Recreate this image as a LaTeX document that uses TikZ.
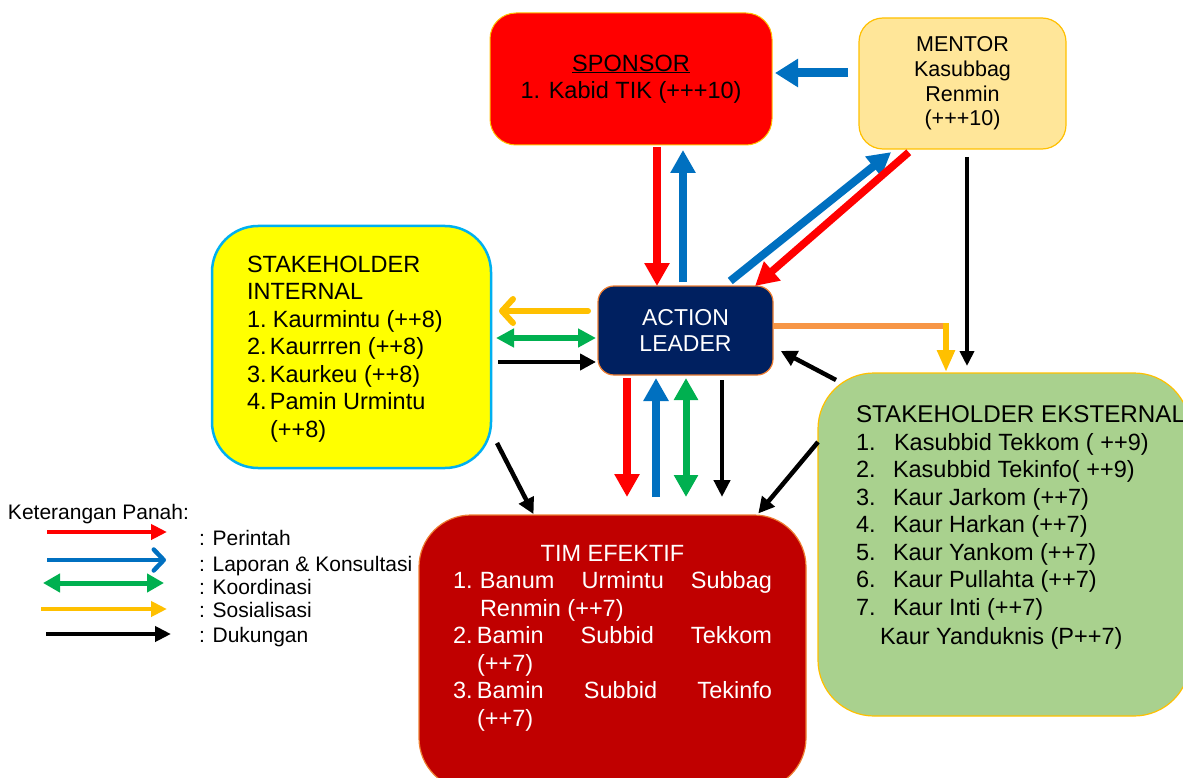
\documentclass[tikz,border=0pt]{standalone}
\usepackage{fontspec}
\setmainfont{Liberation Sans}
\usetikzlibrary{arrows.meta}

\definecolor{cRed}{HTML}{FF0000}
\definecolor{cBlue}{HTML}{0070C0}
\definecolor{cGreen}{HTML}{00B050}
\definecolor{cGold}{HTML}{FFC000}
\definecolor{cOrange}{HTML}{F79646}
\definecolor{cEdge}{HTML}{ED7D31}
\definecolor{cCyan}{HTML}{00B0F0}
\definecolor{cNavy}{HTML}{002060}
\definecolor{cDark}{HTML}{C00000}
\definecolor{cCream}{HTML}{FFE699}
\definecolor{cLeaf}{HTML}{A9D18E}
\definecolor{cLemon}{HTML}{FFFF00}

% number column for the lists
\newcommand\numcol[2]{\makebox[#1][l]{#2}}

\begin{document}
\begin{tikzpicture}[x=1pt,y=-1pt,
  panel/.style={rectangle, anchor=north west, inner sep=0pt, outer sep=0pt, align=center},
  txt/.style={inner sep=0pt, outer sep=0pt, align=left},
  bigfont/.style={font=\fontsize{23.5}{27.5}\selectfont},
  keyfont/.style={font=\fontsize{21}{24}\selectfont},
  fatR/.style={draw=cRed, line width=7.5pt, -{Triangle[length=23pt,width=24pt]}},
  fatB/.style={draw=cBlue, line width=8pt, -{Triangle[length=23pt,width=24pt]}},
  fatG/.style={draw=cGreen, line width=7pt, {Triangle[length=22pt,width=23pt]}-{Triangle[length=22pt,width=23pt]}},
  thinK/.style={draw=black, line width=4.5pt, -{Triangle[length=16pt,width=16pt]}},
  midG/.style={draw=cGreen, line width=6pt, {Triangle[length=18pt,width=18pt]}-{Triangle[length=18pt,width=18pt]}},
  barbY/.style={draw=cGold, line width=6pt, line cap=round, -{Straight Barb[length=11pt,width=24pt,line cap=round,line join=round]}},
  keyR/.style={draw=cRed, line width=4.5pt, -{Triangle[length=16pt,width=15pt]}},
  keyB/.style={draw=cBlue, line width=4.5pt, -{Straight Barb[length=10pt,width=21pt,line cap=round,line join=round]}},
  keyG/.style={draw=cGreen, line width=5pt, {Triangle[length=17pt,width=18pt]}-{Triangle[length=17pt,width=18pt]}},
  keyY/.style={draw=cGold, line width=4.5pt, -{Triangle[length=16pt,width=15pt]}},
  keyK/.style={draw=black, line width=4.5pt, -{Triangle[length=16pt,width=15pt]}},
]
\useasboundingbox (0,0) rectangle (1183,778);

% ---------- boxes ----------
\node[panel, fill=cRed, draw=cGold, line width=1pt, rounded corners=26pt,
      minimum width=282pt, minimum height=132pt, bigfont] (sponsor) at (490,13)
      {\underline{SPONSOR}\\1. Kabid TIK (+++10)};

\node[panel, fill=cCream, draw=cGold, line width=1.2pt, rounded corners=24pt,
      minimum width=207pt, minimum height=131pt,
      font=\fontsize{21.5}{24.8}\selectfont] (mentor) at (859,18)
      {MENTOR\\Kasubbag\\Renmin\\(+++10)};

\node[panel, fill=cNavy, draw=cEdge, line width=1.2pt, rounded corners=16pt,
      minimum width=175pt, minimum height=89pt, text=white,
      font=\fontsize{23}{26}\selectfont] (action) at (598,286)
      {ACTION\\LEADER};

\node[panel, fill=cLemon, draw=cCyan, line width=2.5pt, rounded corners=46pt,
      minimum width=279pt, minimum height=242pt] (internal) at (212,226) {};

\node[panel, fill=cDark, draw=cEdge, line width=1.2pt, rounded corners=52pt,
      minimum width=387pt, minimum height=275pt] (tim) at (419,515) {};

\node[panel, fill=cLeaf, draw=cGold, line width=1.2pt, rounded corners=56pt,
      minimum width=372pt, minimum height=343pt] (eks) at (818,373) {};

% ---------- box texts ----------
\node[txt, bigfont, anchor=north west] (inttext) at (247,256)
  {STAKEHOLDER\\INTERNAL\\
   \numcol{26pt}{1.}Kaurmintu (++8)\\
   \numcol{23pt}{2.}Kaurrren (++8)\\
   \numcol{23pt}{3.}Kaurkeu (++8)\\
   \numcol{23pt}{4.}Pamin Urmintu\\
   \hspace*{23pt}(++8)};

\node[txt, bigfont, anchor=north west] (ekstext) at (856,406)
  {{\fontsize{24.2}{27.5}\selectfont STAKEHOLDER EKSTERNAL}\\
   \numcol{38pt}{1.}Kasubbid Tekkom ( ++9)\\
   \numcol{37pt}{2.}Kasubbid Tekinfo( ++9)\\
   \numcol{37pt}{3.}Kaur Jarkom (++7)\\
   \numcol{37pt}{4.}Kaur Harkan (++7)\\
   \numcol{37pt}{5.}Kaur Yankom (++7)\\
   \numcol{37pt}{6.}Kaur Pullahta (++7)\\
   \numcol{37pt}{7.}Kaur Inti (++7)\\[1.5pt]
   \hspace*{24pt}Kaur Yanduknis (P++7)};

\node[txt, bigfont, text=white, anchor=north west] (timtext) at (453,545)
  {\makebox[319pt][c]{TIM EFEKTIF}\\
   \makebox[319pt][s]{\numcol{27pt}{1.}Banum Urmintu Subbag}\\
   \hspace*{27pt}Renmin (++7)\\
   \makebox[319pt][s]{\numcol{24pt}{2.}Bamin Subbid Tekkom}\\
   \hspace*{24pt}(++7)\\
   \makebox[319pt][s]{\numcol{24pt}{3.}Bamin Subbid Tekinfo}\\
   \hspace*{24pt}(++7)};

% ---------- connectors ----------
% sponsor <-> action leader
\draw[fatR, shorten <=2pt] ([xshift=26pt]sponsor.south) -- ([xshift=-28.5pt]action.north);
\draw[fatB, shorten <=4pt, shorten >=5pt] ([xshift=-2.5pt]action.north) -- ([xshift=52pt]sponsor.south);
% mentor -> sponsor
\draw[fatB, line width=9pt, -{Triangle[length=23pt,width=27pt]}, shorten <=11pt, shorten >=3pt]
  ([yshift=10.5pt]mentor.west) -- ([yshift=6pt]sponsor.east);
% action leader <-> mentor (diagonals)
\draw[fatB, shorten <=8pt, shorten >=5pt] ([xshift=38.5pt]action.north) -- ([xshift=-67.5pt]mentor.south);
\draw[fatR, shorten <=5pt] ([xshift=-50pt]mentor.south) -- ([xshift=69.5pt]action.north);
% mentor -> stakeholder eksternal
\draw[thinK, -{Triangle[length=15pt,width=14pt]}, shorten <=8pt, shorten >=7pt]
  ([xshift=4.5pt]mentor.south) -- ([xshift=-37pt]eks.north);
% action leader -> stakeholder eksternal (sosialisasi)
\coordinate (bend) at ([xshift=173pt,yshift=4.5pt]action.east);
\draw[cOrange, line width=5.5pt] ([yshift=4.5pt]action.east) -- ([xshift=2.75pt]bend);
\draw[cGold, line width=6pt, -{Triangle[length=22pt,width=17pt]}, shorten <=-2.75pt, shorten >=1pt]
  (bend) -- (bend |- eks.north);
% stakeholder eksternal -> action leader
\draw[thinK, shorten >=2pt]
  ([xshift=18pt,yshift=-7pt]eks.north west) -- ([xshift=6pt,yshift=-19.5pt]action.east);
% action leader <-> stakeholder internal
\draw[barbY, shorten <=10pt, shorten >=8pt] ([yshift=19.5pt]action.west) -- ([yshift=36pt]internal.east);
\draw[midG, shorten <=5pt, shorten >=2pt] ([yshift=9pt]internal.east) -- ([yshift=-7.5pt]action.west);
\draw[thinK, shorten <=7pt, shorten >=2pt] ([yshift=-15pt]internal.east) -- ([yshift=-31.5pt]action.west);
% action leader <-> tim efektif
\draw[fatR, line width=8pt, shorten <=3pt, shorten >=18pt] ([xshift=-58.5pt]action.south) -- ([xshift=14.5pt]tim.north);
\draw[fatB, shorten <=18pt, shorten >=3pt] ([xshift=43.5pt]tim.north) -- ([xshift=-29.5pt]action.south);
\draw[fatG, shorten <=3pt, shorten >=18pt] ([xshift=0.5pt]action.south) -- ([xshift=73.5pt]tim.north);
\draw[thinK, line width=4.5pt, -{Triangle[length=17pt,width=16pt]}, shorten <=5pt, shorten >=18pt]
  ([xshift=36.5pt]action.south) -- ([xshift=109.5pt]tim.north);
% stakeholders -> tim efektif
\draw[thinK, shorten >=1pt] ([xshift=6pt,yshift=25pt]internal.south east) -- ([xshift=115pt]tim.north west);
\draw[thinK, shorten >=2pt] ([yshift=-69pt]eks.north west) -- ([xshift=-49pt]tim.north east);

% ---------- legend ----------
\node[txt, keyfont, anchor=north west] (keytitle) at (8,504) {Keterangan Panah:};
\coordinate (kR1) at (47,532);  \coordinate (kR2) at (167,532);
\coordinate (kB1) at (47,560);  \coordinate (kB2) at (166,560);
\coordinate (kG1) at (43,583);  \coordinate (kG2) at (164,583);
\coordinate (kY1) at (41,609);  \coordinate (kY2) at (167,609);
\coordinate (kK1) at (46,634);  \coordinate (kK2) at (171,634);
\draw[keyR] (kR1) -- (kR2);
\draw[keyB] (kB1) -- (kB2);
\draw[keyG] (kG1) -- (kG2);
\draw[keyY] (kY1) -- (kY2);
\draw[keyK] (kK1) -- (kK2);
\node[txt, keyfont, anchor=base west] (kRt) at (199,545) {: Perintah};
\node[txt, keyfont, anchor=base west] (kBt) at (199,571) {: Laporan \& Konsultasi};
\node[txt, keyfont, anchor=base west] (kGt) at (199,594) {: Koordinasi};
\node[txt, keyfont, anchor=base west] (kYt) at (199,617) {: Sosialisasi};
\node[txt, keyfont, anchor=base west] (kKt) at (199,642) {: Dukungan};
\end{tikzpicture}
\end{document}
